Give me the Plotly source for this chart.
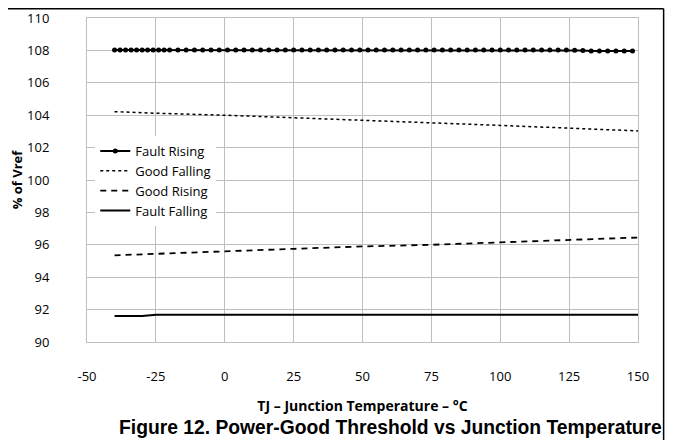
import plotly.graph_objects as go

# Fault Rising (with markers)
fr_temp = [-40, -38, -36, -34, -32, -30, -28, -26, -24, -22, -20,
           -17, -14, -11, -8, -5, -2, 1, 4, 7, 10, 13, 16, 19, 22, 25, 28,
           31, 34, 37, 40, 43, 46, 49, 52, 55, 58, 61, 64, 67, 70, 73, 76,
           79, 82, 85, 88, 91, 94, 97, 100, 103, 106, 109, 112, 115, 118,
           121, 124, 127, 130, 133, 136, 139, 142, 145, 148]
fr_vals = [108.02, 108.02, 108.02, 108.02, 108.02, 108.02, 108.02, 108.02, 108.02, 108.02, 108.02,
           108.02, 108.02, 108.02, 108.02, 108.02, 108.02, 108.02, 108.02, 108.02, 108.02, 108.02,
           108.02, 108.02, 108.02, 108.02, 108.02, 108.02, 108.02, 108.02, 108.02, 108.02, 108.02,
           108.02, 108.02, 108.02, 108.02, 108.02, 108.02, 108.02, 108.02, 108.02, 108.02, 108.02,
           108.02, 108.02, 108.02, 108.02, 108.02, 108.02, 108.02, 108.02, 108.02, 108.02, 108.02,
           108.02, 108.02, 108.02, 108.02, 108.01, 107.99, 107.97, 107.96, 107.96, 107.96, 107.96, 107.96]

# Good Falling (dotted)
gf_temp = [-40, -25, 0, 25, 50, 75, 100, 125, 150]
gf_vals = [104.22, 104.12, 104.0, 103.85, 103.7, 103.53, 103.37, 103.2, 103.03]

# Good Rising (dashed)
gr_temp = [-40, -25, 0, 25, 50, 75, 100, 125, 150]
gr_vals = [95.35, 95.45, 95.6, 95.75, 95.9, 96.0, 96.15, 96.3, 96.45]

# Fault Falling (solid)
ff_temp = [-40, -30, -25, 0, 50, 100, 150]
ff_vals = [91.6, 91.6, 91.68, 91.68, 91.68, 91.68, 91.68]

x_ticks = [-50, -25, 0, 25, 50, 75, 100, 125, 150]
y_ticks = [90, 92, 94, 96, 98, 100, 102, 104, 106, 108, 110]

font_fam = "Open Sans, Noto Sans, sans-serif"

fig = go.Figure()
fig.add_trace(go.Scatter(x=fr_temp, y=fr_vals, name="Fault Rising", mode="lines+markers",
                         line=dict(color="black", width=2),
                         marker=dict(color="black", size=5, symbol="circle")))
fig.add_trace(go.Scatter(x=gf_temp, y=gf_vals, name="Good Falling", mode="lines",
                         line=dict(color="black", width=1.5, dash="dot")))
fig.add_trace(go.Scatter(x=gr_temp, y=gr_vals, name="Good Rising", mode="lines",
                         line=dict(color="black", width=1.8, dash="6px,5px")))
fig.add_trace(go.Scatter(x=ff_temp, y=ff_vals, name="Fault Falling", mode="lines",
                         line=dict(color="black", width=2)))

fig.update_layout(
    width=657, height=432,
    margin=dict(l=79, r=27, t=10, b=98, autoexpand=False),
    paper_bgcolor="white", plot_bgcolor="white",
    font=dict(family=font_fam, size=13, color="black"),
    showlegend=True,
    legend=dict(x=0.015, y=0.636, xanchor="left", yanchor="top",
                bgcolor="white", borderwidth=0,
                font=dict(family=font_fam, size=13),
                tracegroupgap=0, itemwidth=30),
    xaxis=dict(range=[-50, 150], tickvals=x_ticks, ticktext=[str(v) for v in x_ticks],
               showgrid=True, gridcolor="#bfbfbf", gridwidth=1,
               showline=True, linecolor="#bfbfbf", linewidth=1, mirror=True,
               zeroline=False, ticks="", ticklen=0, ticklabelstandoff=22,
               automargin=False,
               title=dict(text="<b>TJ – Junction Temperature – °C</b>",
                          font=dict(family=font_fam, size=14), standoff=17)),
    yaxis=dict(range=[90, 110], tickvals=y_ticks, ticktext=[str(v) for v in y_ticks],
               showgrid=True, gridcolor="#bfbfbf", gridwidth=1,
               showline=True, linecolor="#bfbfbf", linewidth=1, mirror=True,
               zeroline=False, ticks="", ticklen=0, ticklabelstandoff=34,
               automargin=False,
               title=dict(text="<b>% of Vref</b>",
                          font=dict(family=font_fam, size=13), standoff=14)),
)

# Frame lines around figure (top and right)
fig.add_shape(type="line", xref="paper", yref="paper",
              x0=-0.3, x1=1.0465, y0=1.0285, y1=1.0285,
              line=dict(color="black", width=1.5))
fig.add_shape(type="line", xref="paper", yref="paper",
              x0=1.0465, x1=1.0465, y0=1.0285, y1=-0.31,
              line=dict(color="black", width=1.5))

fig.add_annotation(text="<b>Figure 12. Power-Good Threshold vs Junction Temperature</b>",
                   xref="paper", yref="paper", x=0.5517, y=-0.265,
                   xanchor="center", yanchor="middle", showarrow=False,
                   font=dict(family="Liberation Sans, Arial, sans-serif", size=19.3, color="black"))

fig.write_html("out.html")
